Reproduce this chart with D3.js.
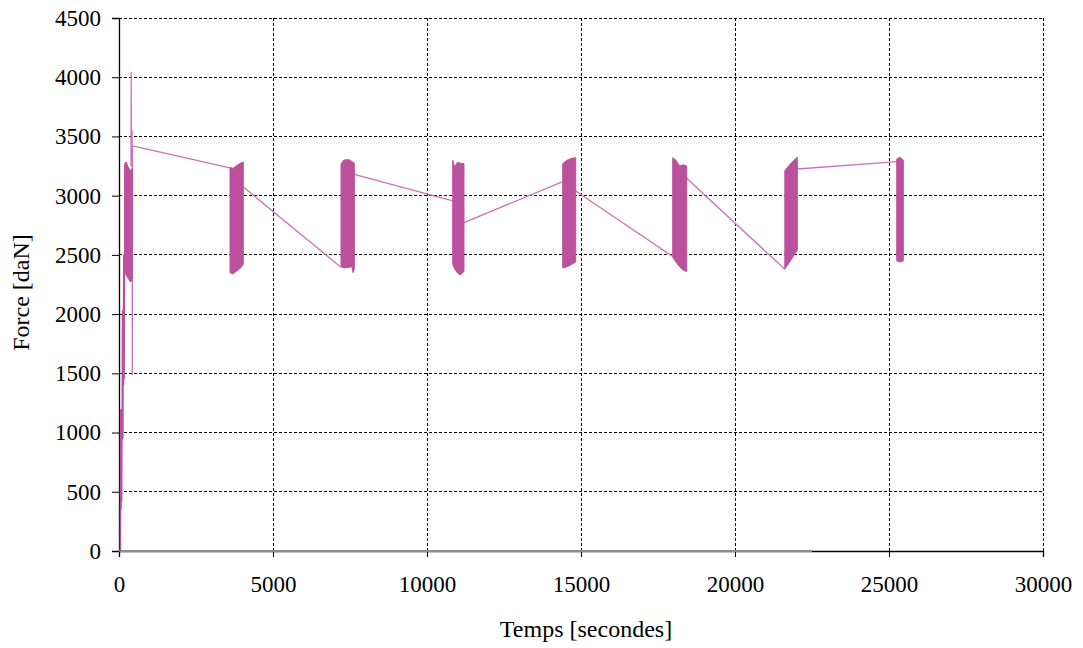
<!DOCTYPE html>
<html>
<head>
<meta charset="utf-8">
<script src="https://cdn.jsdelivr.net/npm/d3@7"></script>
<style>
  html, body { margin: 0; padding: 0; background: #fff; }
  svg { display: block; }
  text { font-family: "Liberation Serif", "Times New Roman", serif; fill: #000; }
</style>
</head>
<body>
<svg id="chart" width="1083" height="648"></svg>
<script>
// ---------- data ----------
const xTicks = [0, 5000, 10000, 15000, 20000, 25000, 30000];
const yTicks = [0, 500, 1000, 1500, 2000, 2500, 3000, 3500, 4000, 4500];

// initial loading ramp (time s, force daN)
const rampT = [0, 45, 55, 65, 75, 85, 95, 105, 115, 125, 135, 145, 155, 165, 180, 195];
const rampF = [0, 0, 1190, 350, 1200, 420, 1200, 940, 2030, 950, 2040, 1400, 2500, 1450, 2520, 2430];

// overload spike after first block
const spikeT = [390, 396, 402, 425, 432, 440];
const spikeF = [3250, 4047, 3300, 3555, 1486, 3420];

// dense cyclic blocks: envelope points [t, min, max]
const bursts = [
  [[180, 2430, 3270], [230, 2330, 3285], [300, 2300, 3240], [380, 2270, 3210], [432, 2300, 3230]],
  [[3604, 2350, 3240], [3700, 2340, 3230], [3800, 2360, 3250], [3950, 2390, 3275], [4036, 2420, 3285]],
  [[7208, 2400, 3270], [7300, 2390, 3300], [7450, 2395, 3305], [7560, 2400, 3290], [7600, 2350, 3280], [7640, 2380, 3275]],
  [[10835, 2420, 3300], [10900, 2380, 3240], [10980, 2350, 3280], [11080, 2330, 3275], [11201, 2360, 3270]],
  [[14406, 2390, 3270], [14550, 2400, 3300], [14700, 2420, 3315], [14828, 2440, 3320]],
  [[17978, 2480, 3320], [18080, 2440, 3300], [18200, 2400, 3250], [18320, 2370, 3260], [18432, 2360, 3250]],
  [[21618, 2380, 3210], [21800, 2450, 3270], [22023, 2540, 3325]],
  [[25251, 2450, 3310], [25350, 2440, 3325], [25465, 2450, 3300]]
];

// straight links between blocks: [tStart, fStart, tEnd, fEnd]
const links = [
  [440, 3420, 3604, 3234],
  [4036, 3073, 7208, 2395],
  [7640, 3180, 10835, 2955],
  [11201, 2772, 14406, 3118],
  [14828, 3040, 17978, 2486],
  [18432, 3147, 21618, 2378],
  [22023, 3225, 25251, 3287]
];

// zero-force trace of second channel
const zeroT = [0, 22500];
const zeroF = [0, 0];

// ---------- layout ----------
const svg = d3.select("#chart");
const x = d3.scaleLinear().domain([0, 30000]).range([119, 1043]);
const y = d3.scaleLinear().domain([0, 4500]).range([551, 18]);

const lineColor = "#cc72b8";
const fillColor = "#bb519d";
const serif = '"Liberation Serif", "Times New Roman", serif';

// grid
const grid = svg.append("g");
grid.selectAll("line.h").data(yTicks.filter(d => d > 0)).join("line")
  .attr("x1", x(0)).attr("x2", x(30000))
  .attr("y1", d => y(d)).attr("y2", d => y(d))
  .attr("stroke", "#000").attr("stroke-width", 1).attr("stroke-dasharray", "3,2")
  .attr("shape-rendering", "crispEdges");
grid.selectAll("line.v").data(xTicks.filter(d => d > 0)).join("line")
  .attr("x1", d => x(d)).attr("x2", d => x(d))
  .attr("y1", y(0)).attr("y2", y(4500))
  .attr("stroke", "#000").attr("stroke-width", 1).attr("stroke-dasharray", "3,2")
  .attr("shape-rendering", "crispEdges");

// axes
const xAxis = svg.append("g").attr("transform", `translate(0,${y(0)})`)
  .call(d3.axisBottom(x).tickValues(xTicks).tickSize(6).tickPadding(19).tickFormat(d3.format("d")));
const yAxis = svg.append("g").attr("transform", `translate(${x(0)},0)`)
  .call(d3.axisLeft(y).tickValues(yTicks).tickSize(7).tickPadding(11).tickFormat(d3.format("d")));
[xAxis, yAxis].forEach(g => {
  g.attr("font-family", serif).attr("font-size", 23);
  g.select(".domain").attr("stroke", "#000").attr("stroke-width", 1.3);
  g.selectAll(".tick line").attr("stroke", "#000");
  g.selectAll(".tick text").style("font-family", serif).style("font-size", "23px").attr("fill", "#000");
});

// zero trace
svg.append("path")
  .datum(zeroT.map((t, i) => [t, zeroF[i]]))
  .attr("d", d3.line().x(d => x(d[0])).y(d => y(d[1])))
  .attr("stroke", "#8c8c8c").attr("stroke-width", 1.8).attr("fill", "none");

// links
svg.append("g").selectAll("line").data(links).join("line")
  .attr("x1", d => x(d[0])).attr("y1", d => y(d[1]))
  .attr("x2", d => x(d[2])).attr("y2", d => y(d[3]))
  .attr("stroke", lineColor).attr("stroke-width", 1.3);

// ramp & spike
const line = d3.line().x(d => x(d[0])).y(d => y(d[1]));
svg.append("path").datum(rampT.map((t, i) => [t, rampF[i]]))
  .attr("d", line).attr("stroke", fillColor).attr("stroke-width", 1.6).attr("fill", "none");
svg.append("path").datum(spikeT.map((t, i) => [t, spikeF[i]]))
  .attr("d", line).attr("stroke", lineColor).attr("stroke-width", 1.3).attr("fill", "none");

// bursts
const area = d3.area().x(d => x(d[0])).y0(d => y(d[1])).y1(d => y(d[2]));
svg.append("g").selectAll("path").data(bursts).join("path")
  .attr("d", area).attr("fill", fillColor).attr("stroke", fillColor).attr("stroke-width", 1)
  .attr("stroke-linejoin", "miter");

// axis titles
svg.append("text").attr("x", (x(0) + x(30000)) / 2 + 5).attr("y", 637)
  .attr("text-anchor", "middle").style("font-size", "24px").text("Temps [secondes]");
svg.append("text").attr("transform", `translate(29,${(y(0) + y(4500)) / 2 + 8}) rotate(-90)`)
  .attr("text-anchor", "middle").style("font-size", "24px").text("Force [daN]");
</script>
</body>
</html>
